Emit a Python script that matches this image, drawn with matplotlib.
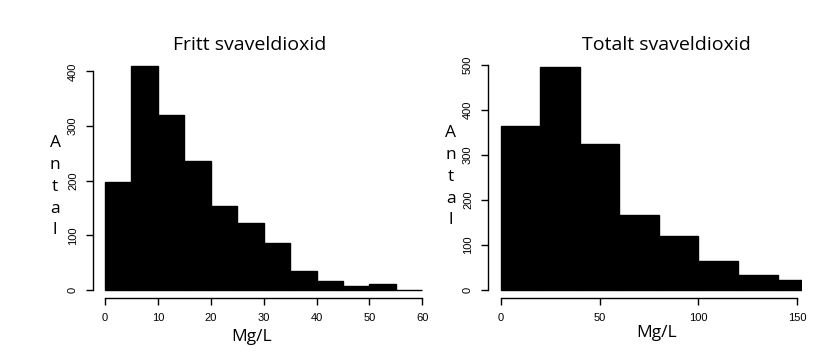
import matplotlib
matplotlib.use("Agg")
import matplotlib.pyplot as plt
import numpy as np

W, H = 821, 360

# Data
free_edges = [0, 5, 10, 15, 20, 25, 30, 35, 40, 45, 50, 55, 60]
free_counts = [197, 409, 320, 236, 154, 123, 86, 35, 17, 7, 11, 0]
free_xticks = [0, 10, 20, 30, 40, 50, 60]
free_yticks = [0, 100, 200, 300, 400]

tot_edges = [0, 20, 40, 60, 80, 100, 120, 140, 160]
tot_counts = [364, 496, 324, 167, 120, 64, 33, 22]
tot_xticks = [0, 50, 100, 150]
tot_yticks = [0, 100, 200, 300, 400, 500]

titles = ["Fritt svaveldioxid", "Totalt svaveldioxid"]
xlabel = "Mg/L"
ylabel = "Antal"

fig = plt.figure(figsize=(W / 100, H / 100), dpi=100)
fig.patch.set_facecolor("white")

TICKFONT = "Liberation Sans"
LABFONT = "Open Sans"


def make_axes(x0px, x1px, xlim, ybot_px, ytop_px, ylim):
    left = x0px / W
    width = (x1px - x0px) / W
    bottom = (H - ybot_px) / H
    height = (ybot_px - ytop_px) / H
    ax = fig.add_axes([left, bottom, width, height])
    ax.set_xlim(*xlim)
    ax.set_ylim(*ylim)
    return ax


def style(ax, edges, counts, xticks, yticks):
    widths = np.diff(edges)
    ax.bar(edges[:-1], counts, width=widths, align="edge",
           color="black", edgecolor="black", linewidth=1.0)
    for s in ["top", "right"]:
        ax.spines[s].set_visible(False)
    ax.spines["bottom"].set_bounds(xticks[0], xticks[-1])
    ax.spines["left"].set_bounds(yticks[0], yticks[-1])
    for s in ["bottom", "left"]:
        ax.spines[s].set_linewidth(1.0)
    ax.set_xticks(xticks)
    ax.set_yticks(yticks)
    ax.tick_params(axis="both", direction="out", length=5, width=1.0,
                   labelsize=8, pad=6)
    for lab in ax.get_xticklabels():
        lab.set_fontfamily(TICKFONT)
    for lab in ax.get_yticklabels():
        lab.set_fontfamily(TICKFONT)
        lab.set_rotation(90)
        lab.set_va("center")
    ax.set_facecolor("none")


# Left: x px = 105 + 5.288*x ; y px = 290 - 0.5458*y
ax1 = make_axes(93.3, 435.0, (-2.21, 62.4), 298.0, 55.0, (-14.66, 430))
style(ax1, free_edges, free_counts, free_xticks, free_yticks)

# Right: x px = 500.7 + 1.978*x ; y px = 290 - 0.45*y
ax2 = make_axes(488.3, 801.7, (-6.27, 152.2), 298.0, 55.0, (-17.8, 522))
style(ax2, tot_edges, tot_counts, tot_xticks, tot_yticks)

# Titles
fig.text(250 / W, 1 - 45 / H, titles[0], ha="center", va="center",
         fontsize=14, fontfamily=LABFONT)
fig.text(666.7 / W, 1 - 45 / H, titles[1], ha="center", va="center",
         fontsize=14, fontfamily=LABFONT)

# X labels
fig.text(251.3 / W, 1 - 337 / H, xlabel, ha="center", va="center",
         fontsize=12.5, fontfamily=LABFONT)
fig.text(656.7 / W, 1 - 333 / H, xlabel, ha="center", va="center",
         fontsize=12.5, fontfamily=LABFONT)

# Y labels (stacked letters)
left_y = [143, 165, 187, 209, 230]
right_y = [133, 155, 177, 199, 220]
for ch, yy in zip(ylabel, left_y):
    fig.text(55 / W, 1 - yy / H, ch, ha="center", va="center",
             fontsize=12.5, fontfamily=LABFONT)
for ch, yy in zip(ylabel, right_y):
    fig.text(450.7 / W, 1 - yy / H, ch, ha="center", va="center",
             fontsize=12.5, fontfamily=LABFONT)

fig.savefig("out.png", dpi=100, facecolor="white")
